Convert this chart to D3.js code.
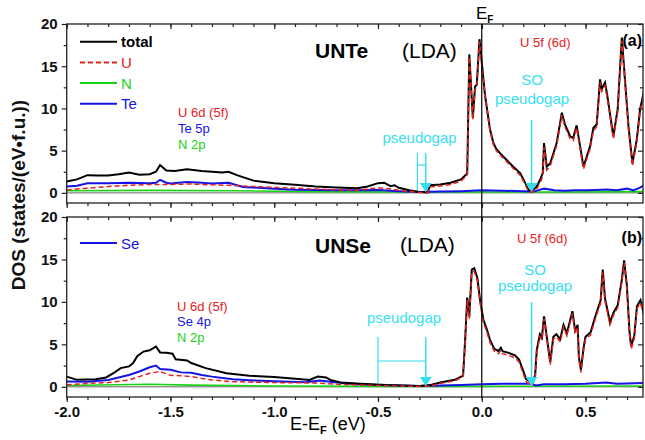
<!DOCTYPE html>
<html>
<head>
<meta charset="utf-8">
<script src="https://d3js.org/d3.v7.min.js"></script>
<style>
  body{ margin:0; background:#fff; }
  svg{ display:block; font-family:"Liberation Sans", Arial, sans-serif; }
</style>
</head>
<body>
<svg id="chart" width="645" height="440"></svg>
<script>
// ---- data ----
const xMajor = [-2.0, -1.5, -1.0, -0.5, 0.0, 0.5];
const xMinor = d3.range(-20, 8).map(function(i){ return i / 10; });
const yMajor = [0, 5, 10, 15, 20];
const yMinor = [2.5, 7.5, 12.5, 17.5];

// UNTe panel (a): [E-EF, DOS]
const teTotal = [[-2.00,1.35],[-1.95,1.6],[-1.90,2.1],[-1.85,2.05],[-1.80,2.05],[-1.75,2.2],[-1.70,2.4],[-1.65,2.15],[-1.60,2.2],[-1.57,2.5],[-1.55,3.3],[-1.52,2.65],[-1.48,2.6],[-1.42,2.8],[-1.35,2.6],[-1.30,2.5],[-1.25,2.4],[-1.22,2.5],[-1.18,2.1],[-1.10,1.45],[-1.00,1.15],[-0.90,0.95],[-0.80,0.75],[-0.70,0.65],[-0.60,0.55],[-0.55,0.75],[-0.50,1.15],[-0.47,1.2],[-0.44,0.8],[-0.42,0.9],[-0.40,0.6],[-0.35,0.3],[-0.30,0.1],[-0.26,0.05],[-0.25,0.9],[-0.20,1.0],[-0.15,1.2],[-0.10,1.6],[-0.07,2.3],[-0.06,16.4],[-0.043,8.9],[-0.032,12.6],[-0.024,12.8],[-0.011,18.2],[0.0,15.5],[0.016,11.5],[0.04,7.5],[0.056,5.9],[0.07,5.2],[0.088,4.7],[0.12,3.9],[0.152,3.1],[0.185,2.35],[0.21,1.15],[0.225,0.35],[0.241,0.2],[0.265,0.75],[0.281,1.55],[0.294,2.35],[0.30,5.9],[0.313,3.1],[0.33,3.5],[0.361,5.9],[0.386,9.5],[0.401,8.1],[0.426,6.7],[0.441,6.5],[0.457,8.0],[0.474,5.5],[0.49,3.1],[0.506,4.3],[0.522,5.5],[0.538,7.7],[0.554,8.1],[0.57,13.45],[0.578,12.3],[0.594,13.05],[0.605,11.5],[0.634,6.7],[0.655,9.9],[0.675,18.4],[0.69,13.45],[0.707,7.9],[0.726,3.5],[0.747,6.3],[0.763,9.9],[0.787,12.65]];
const teU = [[-2.0,0.35],[-1.9,0.55],[-1.8,0.75],[-1.7,0.9],[-1.6,1.0],[-1.5,1.0],[-1.4,1.05],[-1.3,0.95],[-1.22,0.9],[-1.1,0.75],[-1.0,0.65],[-0.9,0.55],[-0.8,0.45],[-0.7,0.35],[-0.6,0.3],[-0.5,0.6],[-0.45,0.5],[-0.4,0.3],[-0.3,0.05],[-0.26,0.02],[-0.25,0.7],[-0.2,0.8],[-0.15,1.0],[-0.1,1.4],[-0.07,2.1],[-0.06,16.1],[-0.043,8.7],[-0.032,12.3],[-0.024,12.5],[-0.011,17.9],[0.0,15.2],[0.016,11.3],[0.04,7.3],[0.056,5.7],[0.07,5.0],[0.088,4.5],[0.12,3.7],[0.152,2.9],[0.185,2.1],[0.21,0.95],[0.225,0.2],[0.241,0.05],[0.265,0.5],[0.281,1.2],[0.294,1.9],[0.30,5.4],[0.313,2.7],[0.33,3.2],[0.361,5.6],[0.386,9.2],[0.401,7.8],[0.426,6.4],[0.441,6.2],[0.457,7.7],[0.474,5.2],[0.49,2.8],[0.506,4.0],[0.522,5.2],[0.538,7.4],[0.554,7.8],[0.57,13.1],[0.578,12.0],[0.594,12.7],[0.605,11.2],[0.634,6.4],[0.655,9.6],[0.675,18.0],[0.69,13.1],[0.707,7.6],[0.726,3.2],[0.747,6.0],[0.763,9.6],[0.787,12.3]];
const teN = [[-2.0,0.25],[-1.6,0.3],[-1.2,0.25],[-0.8,0.15],[-0.4,0.1],[0.0,0.1],[0.4,0.1],[0.787,0.15]];
const teTe = [[-2.0,0.75],[-1.95,0.85],[-1.9,1.15],[-1.8,1.15],[-1.7,1.2],[-1.6,1.15],[-1.57,1.2],[-1.55,1.55],[-1.52,1.2],[-1.5,1.1],[-1.42,1.3],[-1.35,1.2],[-1.3,1.1],[-1.22,1.2],[-1.15,0.7],[-1.0,0.48],[-0.9,0.36],[-0.8,0.35],[-0.7,0.3],[-0.6,0.3],[-0.5,0.35],[-0.4,0.2],[-0.3,0.1],[-0.2,0.15],[-0.1,0.2],[0.0,0.3],[0.1,0.25],[0.2,0.2],[0.25,0.15],[0.3,0.5],[0.35,0.3],[0.4,0.25],[0.45,0.3],[0.5,0.3],[0.55,0.35],[0.6,0.4],[0.65,0.3],[0.7,0.5],[0.73,0.3],[0.76,0.6],[0.787,0.95]];

// UNSe panel (b)
const seTotal = [[-2.0,1.2],[-1.95,0.82],[-1.86,0.9],[-1.81,1.1],[-1.775,1.6],[-1.74,2.2],[-1.70,2.4],[-1.68,2.8],[-1.66,3.6],[-1.63,4.15],[-1.60,4.3],[-1.57,4.75],[-1.55,4.05],[-1.52,4.0],[-1.49,3.9],[-1.475,3.25],[-1.42,3.1],[-1.40,2.8],[-1.33,2.2],[-1.23,1.6],[-1.12,1.3],[-1.0,1.15],[-0.87,0.9],[-0.83,0.8],[-0.79,1.2],[-0.75,1.1],[-0.73,0.82],[-0.68,0.5],[-0.585,0.35],[-0.46,0.2],[-0.30,0.1],[-0.25,0.2],[-0.2,0.5],[-0.13,0.82],[-0.09,1.33],[-0.08,5.5],[-0.07,10.5],[-0.06,8.3],[-0.048,13.8],[-0.036,13.96],[-0.021,12.8],[-0.008,10.2],[0.008,7.9],[0.024,6.8],[0.04,5.5],[0.06,4.5],[0.08,4.2],[0.092,4.6],[0.10,4.2],[0.13,4.0],[0.16,3.7],[0.18,3.2],[0.195,2.2],[0.214,0.9],[0.24,0.5],[0.257,1.3],[0.265,4.3],[0.28,6.2],[0.29,5.8],[0.30,8.3],[0.31,6.5],[0.33,2.9],[0.345,5.9],[0.36,6.2],[0.378,5.6],[0.394,7.3],[0.41,6.3],[0.437,8.9],[0.45,6.6],[0.462,7.3],[0.468,3.5],[0.478,2.0],[0.49,4.5],[0.5,5.9],[0.524,6.4],[0.55,8.5],[0.573,10.2],[0.583,13.8],[0.594,10.4],[0.618,7.6],[0.634,8.7],[0.655,9.6],[0.675,12.6],[0.686,14.9],[0.699,12.0],[0.712,6.5],[0.72,4.75],[0.735,6.0],[0.748,9.5],[0.765,10.2],[0.787,8.0]];
const seU = [[-2.0,0.25],[-1.9,0.4],[-1.8,0.5],[-1.7,0.8],[-1.65,1.2],[-1.6,1.6],[-1.55,1.8],[-1.5,1.35],[-1.45,1.3],[-1.4,1.2],[-1.3,0.8],[-1.2,0.6],[-1.0,0.5],[-0.8,0.45],[-0.7,0.3],[-0.5,0.15],[-0.3,0.05],[-0.25,0.1],[-0.2,0.4],[-0.13,0.7],[-0.09,1.2],[-0.08,5.3],[-0.07,10.2],[-0.06,8.0],[-0.048,13.5],[-0.036,13.6],[-0.021,12.5],[-0.008,9.9],[0.008,7.6],[0.024,6.5],[0.04,5.2],[0.06,4.2],[0.08,3.9],[0.092,4.3],[0.10,3.9],[0.13,3.7],[0.16,3.4],[0.18,2.9],[0.195,1.9],[0.214,0.6],[0.24,0.15],[0.257,0.9],[0.265,4.0],[0.28,5.9],[0.29,5.5],[0.30,8.0],[0.31,6.2],[0.33,2.6],[0.345,5.6],[0.36,5.9],[0.378,5.3],[0.394,7.0],[0.41,6.0],[0.437,8.6],[0.45,6.3],[0.462,7.0],[0.468,3.2],[0.478,1.7],[0.49,4.2],[0.5,5.6],[0.524,6.1],[0.55,8.2],[0.573,9.9],[0.583,13.5],[0.594,10.1],[0.618,7.3],[0.634,8.4],[0.655,9.3],[0.675,12.3],[0.686,14.6],[0.699,11.7],[0.712,6.2],[0.72,4.45],[0.735,5.7],[0.748,9.2],[0.765,9.9],[0.787,7.7]];
const seN = [[-2.0,0.15],[-1.6,0.3],[-1.4,0.2],[-1.0,0.1],[-0.5,0.05],[0.0,0.05],[0.787,0.1]];
const seSe = [[-2.0,0.62],[-1.9,0.6],[-1.8,0.8],[-1.75,1.1],[-1.7,1.4],[-1.65,1.8],[-1.6,2.3],[-1.57,2.5],[-1.55,2.1],[-1.5,2.0],[-1.45,1.7],[-1.4,1.65],[-1.35,1.4],[-1.3,1.2],[-1.2,0.9],[-1.1,0.75],[-1.0,0.65],[-0.85,0.55],[-0.78,0.75],[-0.7,0.5],[-0.6,0.3],[-0.5,0.2],[-0.4,0.15],[-0.3,0.1],[-0.2,0.15],[-0.1,0.2],[0.0,0.3],[0.1,0.35],[0.24,0.35],[0.26,0.15],[0.3,0.3],[0.4,0.3],[0.5,0.35],[0.6,0.5],[0.65,0.35],[0.7,0.4],[0.787,0.45]];

const topLegend = ['total', 'U', 'N', 'Te'];
const botLegend = ['Se'];

// ---- styling ----
const RED = '#e8201c', BLUE = '#1414e6', GREEN = '#18d418', CYAN = '#36dff0';
const svg = d3.select('#chart');
const x = d3.scaleLinear().domain([-2.0, 0.777]).range([66.7, 643]);

const panels = [
  { id:'a', top:24, bottom:203, total:teTotal, u:teU, n:teN, x2:teTe },
  { id:'b', top:217, bottom:397, total:seTotal, u:seU, n:seN, x2:seSe }
];

panels.forEach(function(p){
  p.y = d3.scaleLinear().domain([-1.2, 20]).range([p.bottom, p.top]);
  const g = svg.append('g');

  g.append('clipPath').attr('id', 'clip-' + p.id)
    .append('rect').attr('x', x.range()[0]).attr('y', p.top)
      .attr('width', x.range()[1] - x.range()[0]).attr('height', p.bottom - p.top);

  // zero line
  g.append('line')
    .attr('x1', x.range()[0]).attr('x2', x.range()[1])
    .attr('y1', p.y(0)).attr('y2', p.y(0))
    .attr('stroke', '#666').attr('stroke-width', 1);

  const line = d3.line().x(function(d){ return x(d[0]); }).y(function(d){ return p.y(d[1]); });
  const curves = g.append('g').attr('clip-path', 'url(#clip-' + p.id + ')');
  curves.append('path').attr('d', line(p.n)).attr('fill', 'none').attr('stroke', GREEN).attr('stroke-width', 1.6);
  curves.append('path').attr('d', line(p.x2)).attr('fill', 'none').attr('stroke', BLUE).attr('stroke-width', 2);
  curves.append('path').attr('d', line(p.total)).attr('fill', 'none').attr('stroke', '#000').attr('stroke-width', 2);
  curves.append('path').attr('d', line(p.u)).attr('fill', 'none').attr('stroke', RED).attr('stroke-width', 1.5)
    .attr('stroke-dasharray', '5,3');

  // axes: ticks point down / left on all four sides
  const fmt = function(d){ return d.toFixed(1); };
  const isBottom = p.id === 'b';
  g.append('g').attr('transform', 'translate(0,' + p.bottom + ')')
    .call(d3.axisBottom(x).tickValues(xMinor).tickSize(3).tickFormat(''));
  g.append('g').attr('class', 'xlab').attr('transform', 'translate(0,' + p.bottom + ')')
    .call(d3.axisBottom(x).tickValues(xMajor).tickSize(5).tickPadding(4).tickFormat(isBottom ? fmt : ''));
  g.append('g').attr('transform', 'translate(0,' + p.top + ')')
    .call(d3.axisTop(x).tickValues(xMinor).tickSize(-3).tickFormat(''));
  g.append('g').attr('transform', 'translate(0,' + p.top + ')')
    .call(d3.axisTop(x).tickValues(xMajor).tickSize(-5).tickFormat(''));
  g.append('g').attr('transform', 'translate(' + x.range()[0] + ',0)')
    .call(d3.axisLeft(p.y).tickValues(yMinor).tickSize(3).tickFormat(''));
  g.append('g').attr('class', 'ylab').attr('transform', 'translate(' + x.range()[0] + ',0)')
    .call(d3.axisLeft(p.y).tickValues(yMajor).tickSize(5).tickPadding(4));
  g.append('g').attr('transform', 'translate(' + x.range()[1] + ',0)')
    .call(d3.axisRight(p.y).tickValues(yMinor).tickSize(-3).tickFormat(''));
  g.append('g').attr('transform', 'translate(' + x.range()[1] + ',0)')
    .call(d3.axisRight(p.y).tickValues(yMajor).tickSize(-5).tickFormat(''));

  // frame
  g.append('rect')
    .attr('x', x.range()[0]).attr('y', p.top)
    .attr('width', x.range()[1] - x.range()[0]).attr('height', p.bottom - p.top)
    .attr('fill', 'none').attr('stroke', '#222').attr('stroke-width', 1.3);
});

svg.selectAll('.domain').remove();
svg.selectAll('.tick line').attr('stroke', '#222').attr('stroke-width', 1.2);
svg.selectAll('.xlab text, .ylab text')
  .attr('font-size', 15).attr('font-weight', 'bold').attr('fill', '#111')
  .attr('font-family', '"Liberation Sans", Arial, sans-serif');

// Fermi level line across both panels
svg.append('line')
  .attr('x1', x(0)).attr('x2', x(0)).attr('y1', 24).attr('y2', 397)
  .attr('stroke', '#000').attr('stroke-width', 1.2);
const ef = svg.append('text').attr('x', 476).attr('y', 19).attr('font-size', 17).attr('fill', '#000');
ef.append('tspan').text('E');
ef.append('tspan').attr('dy', 4).attr('font-size', 10).attr('font-weight', 'bold').text('F');

// legend
const legendStyles = {
  total: { c:'#000', dash:null }, U: { c:RED, dash:'5,3' }, N: { c:GREEN, dash:null },
  Te: { c:BLUE, dash:null }, Se: { c:BLUE, dash:null }
};
function drawLegend(keys, y0){
  keys.forEach(function(k, i){
    const yy = y0 + i * 20.7;
    const s = legendStyles[k];
    svg.append('line').attr('x1', 80).attr('x2', 117).attr('y1', yy).attr('y2', yy)
      .attr('stroke', s.c).attr('stroke-width', 2).attr('stroke-dasharray', s.dash);
    svg.append('text').attr('x', 121).attr('y', yy + 5.5).attr('font-size', 15)
      .attr('font-weight', k === 'total' ? 'bold' : 'normal').attr('fill', s.c).text(k);
  });
}
drawLegend(topLegend, 41.7);
drawLegend(botLegend, 243);

// text annotations
function label(txt, xx, yy, size, color, weight, anchor){
  return svg.append('text').attr('x', xx).attr('y', yy).attr('font-size', size)
    .attr('fill', color).attr('font-weight', weight || 'normal')
    .attr('text-anchor', anchor || 'start').text(txt);
}
label('UNTe', 315, 58, 21, '#000', 'bold');
label('(LDA)', 402, 58, 21, '#000');
label('UNSe', 315, 253, 21, '#000', 'bold');
label('(LDA)', 400, 252, 21, '#000');
label('U 5f (6d)', 520, 47, 13, RED);
label('U 5f (6d)', 517, 243, 13, RED);
label('(a)', 642, 46, 16, '#000', 'bold', 'end');
label('(b)', 642, 243, 16, '#000', 'bold', 'end');

label('U 6d (5f)', 178, 117, 13, RED);
label('Te 5p', 178, 133, 13, BLUE);
label('N  2p', 178, 149, 13, GREEN);
label('U 6d (5f)', 177, 311, 13, RED);
label('Se 4p', 177, 326, 13, BLUE);
label('N  2p', 177, 342, 13, GREEN);

label('SO', 532, 85, 15, CYAN, 'normal', 'middle');
label('pseudogap', 532, 104, 15, CYAN, 'normal', 'middle');
label('pseudogap', 419.5, 143, 15, CYAN, 'normal', 'middle');
label('SO', 535, 275, 15, CYAN, 'normal', 'middle');
label('pseudogap', 535, 291, 15, CYAN, 'normal', 'middle');
label('pseudogap', 404, 323, 15, CYAN, 'normal', 'middle');

// cyan arrows and brackets
function arrow(e, y1, tip){
  const xx = x(e);
  svg.append('line').attr('x1', xx).attr('x2', xx).attr('y1', y1).attr('y2', tip - 6)
    .attr('stroke', CYAN).attr('stroke-width', 1.5);
  svg.append('path')
    .attr('d', 'M' + (xx - 6) + ',' + (tip - 9) + 'L' + (xx + 6) + ',' + (tip - 9) + 'L' + xx + ',' + tip + 'Z')
    .attr('fill', CYAN);
}
function cline(x1, y1, x2, y2){
  svg.append('line').attr('x1', x1).attr('x2', x2).attr('y1', y1).attr('y2', y2)
    .attr('stroke', CYAN).attr('stroke-width', 1.2);
}
arrow(0.24, 120, 192);
arrow(-0.27, 153, 192);
cline(x(-0.31), 153, x(-0.31), 190);
cline(x(-0.31), 165, x(-0.27), 165);

arrow(0.24, 302, 386);
arrow(-0.27, 337, 386);
cline(x(-0.5), 337, x(-0.5), 383);
cline(x(-0.5), 361, x(-0.27), 361);

// axis titles
const xt = svg.append('text').attr('x', 290).attr('y', 430).attr('font-size', 18).attr('fill', '#000');
xt.append('tspan').text('E-E');
xt.append('tspan').attr('dy', 4).attr('font-size', 11).attr('font-weight', 'bold').text('F');
xt.append('tspan').attr('dy', -4).text(' (eV)');

svg.append('text')
  .attr('transform', 'translate(25,195) rotate(-90)')
  .attr('text-anchor', 'middle').attr('font-size', 19).attr('font-weight', 'bold').attr('fill', '#111')
  .text('DOS (states/(eV\u2022f.u.))');
</script>
</body>
</html>
